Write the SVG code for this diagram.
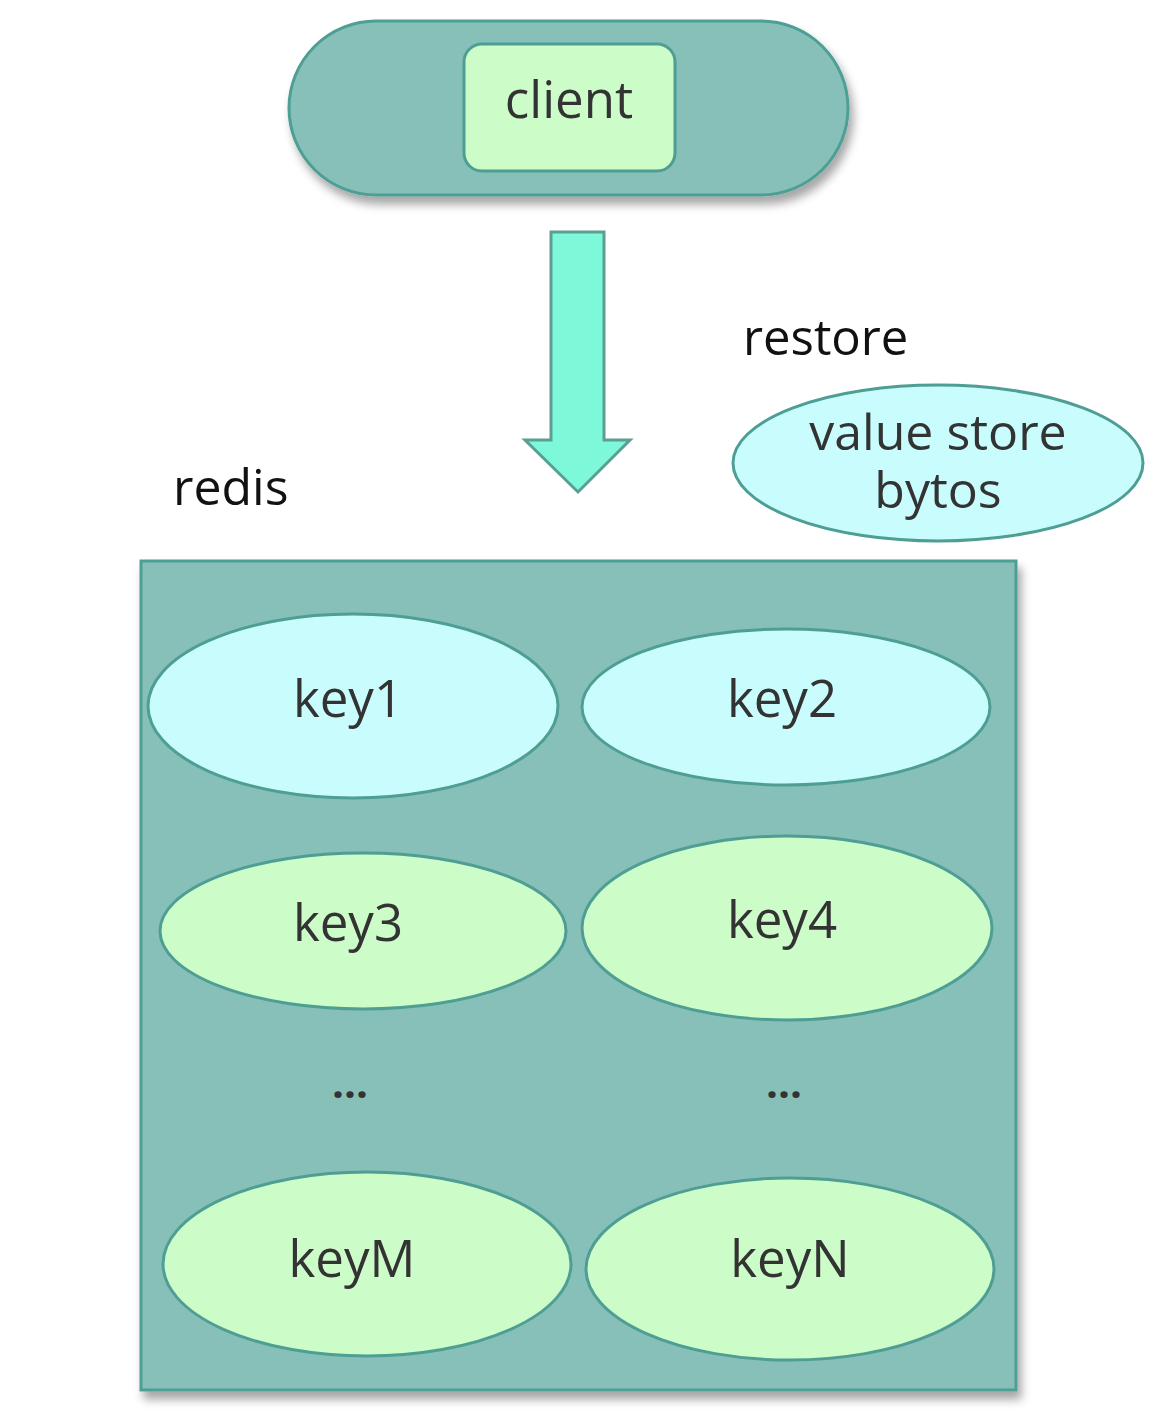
<svg xmlns="http://www.w3.org/2000/svg" width="1176" height="1420" viewBox="0 0 1176 1420">
<defs>
<filter id="sh" x="-10%" y="-10%" width="125%" height="130%">
<feDropShadow dx="4" dy="8" stdDeviation="5" flood-color="#000" flood-opacity="0.35"/>
</filter>
<style>
.box{fill:#87C0B8;stroke:#4E9E94;stroke-width:3}
.cy{fill:#C9FDFD;stroke:#4E9E94;stroke-width:3}
.gr{fill:#CCFCC8;stroke:#4E9E94;stroke-width:3}
.t{font-family:"Open Sans","Noto Sans","Liberation Sans",sans-serif;fill:#333;text-anchor:middle}
.lab{font-family:"Open Sans","Noto Sans","Liberation Sans",sans-serif;fill:#111}
</style>
</defs>
<rect width="1176" height="1420" fill="#fff"/>
<g id="client-group">
<rect class="box" x="289" y="21" width="559" height="174" rx="87" filter="url(#sh)"/>
<rect class="gr" x="464" y="44" width="211" height="127" rx="18"/>
<text class="t" x="569" y="118" font-size="51">client</text>
</g>
<g id="connectors">
<path d="M551 232 H604 V440 H630 L578 492 L525 440 H551 Z" fill="#7DF9D9" stroke="#5A9E94" stroke-width="3"/>
</g>
<text class="lab" x="743" y="355" font-size="49">restore</text>
<g id="value">
<ellipse class="cy" cx="938" cy="463" rx="205" ry="78"/>
<text class="t" x="938" y="450" font-size="50">value store</text>
<text class="t" x="938" y="508" font-size="50">bytos</text>
</g>
<text class="lab" x="173" y="505" font-size="50">redis</text>
<g id="redis">
<rect class="box" x="141" y="561" width="875" height="829" filter="url(#sh)"/>
</g>
<g id="key1"><ellipse class="cy" cx="353" cy="706" rx="205" ry="92"/><text class="t" x="348" y="717" font-size="51">key1</text></g>
<g id="key2"><ellipse class="cy" cx="786" cy="707" rx="204" ry="78"/><text class="t" x="782" y="717" font-size="51">key2</text></g>
<g id="key3"><ellipse class="gr" cx="363" cy="931" rx="203" ry="78"/><text class="t" x="348" y="941" font-size="51">key3</text></g>
<g id="key4"><ellipse class="gr" cx="787" cy="928" rx="205" ry="92"/><text class="t" x="782" y="938" font-size="51">key4</text></g>
<text class="t" x="350" y="1098" font-size="42" font-weight="bold">...</text>
<text class="t" x="784" y="1098" font-size="42" font-weight="bold">...</text>
<g id="keyM"><ellipse class="gr" cx="367" cy="1264" rx="204" ry="92"/><text class="t" x="352" y="1277" font-size="51">keyM</text></g>
<g id="keyN"><ellipse class="gr" cx="790" cy="1269" rx="204" ry="91"/><text class="t" x="790" y="1277" font-size="51">keyN</text></g>
</svg>
